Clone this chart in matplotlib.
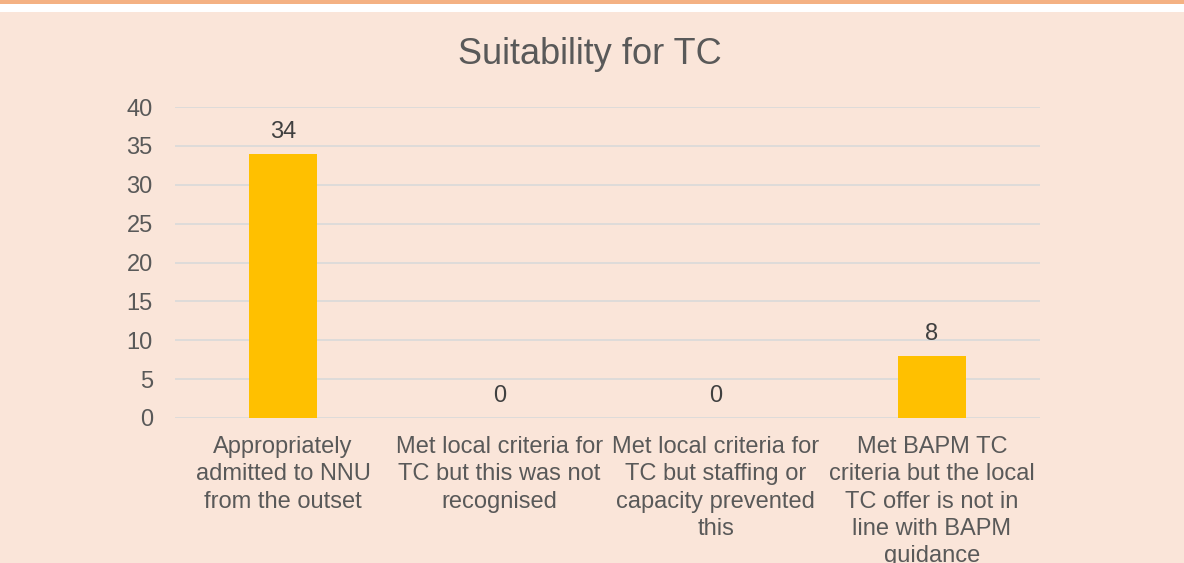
import matplotlib.pyplot as plt
from matplotlib.patches import Rectangle

categories = [
    "Appropriately\nadmitted to NNU\nfrom the outset",
    "Met local criteria for\nTC but this was not\nrecognised",
    "Met local criteria for\nTC but staffing or\ncapacity prevented\nthis",
    "Met BAPM TC\ncriteria but the local\nTC offer is not in\nline with BAPM\nguidance",
]
counts = [34, 0, 0, 8]
yticks = [0, 5, 10, 15, 20, 25, 30, 35, 40]

bg = "#FAE5D9"
plt.rcParams['font.family'] = ['Liberation Sans', 'DejaVu Sans']

fig = plt.figure(figsize=(11.84, 5.63), dpi=100)
fig.patch.set_facecolor(bg)
# top strips: orange band then white band
fig.patches.append(Rectangle((0, 1 - 4 / 563), 1, 4 / 563, transform=fig.transFigure,
                             facecolor="#F4B183", edgecolor="none", zorder=0))
fig.patches.append(Rectangle((0, 1 - 12 / 563), 1, 8 / 563, transform=fig.transFigure,
                             facecolor="white", edgecolor="none", zorder=0))

ax = fig.add_axes([175 / 1184, 1 - 418 / 563, 865 / 1184, 311 / 563])
ax.set_facecolor(bg)

x = range(len(counts))
ax.bar(x, counts, width=0.315, color="#FFC000", zorder=3)
for xi, v in zip(x, counts):
    ax.text(xi, v + 2.0, str(v), ha="center", va="baseline", fontsize=17, color="#404040")

ax.set_xlim(-0.5, len(counts) - 0.5)
ax.set_ylim(0, 40)
ax.set_yticks(yticks)
ax.yaxis.grid(True, color="#D9D9D9", linewidth=1.2, zorder=0)
ax.set_axisbelow(True)
for s in ax.spines.values():
    s.set_visible(False)
ax.tick_params(axis="y", length=0, labelsize=17, labelcolor="#595959", pad=16)
ax.tick_params(axis="x", length=0, labelsize=17, labelcolor="#595959", pad=13)
ax.set_xticks(list(x))
ax.set_xticklabels(categories, va="top", linespacing=1.31)

fig.text(590 / 1184, 1 - 54 / 563, "Suitability for TC", ha="center", va="center",
         fontsize=26, color="#595959")

fig.savefig("out.png", dpi=100, facecolor=bg)
